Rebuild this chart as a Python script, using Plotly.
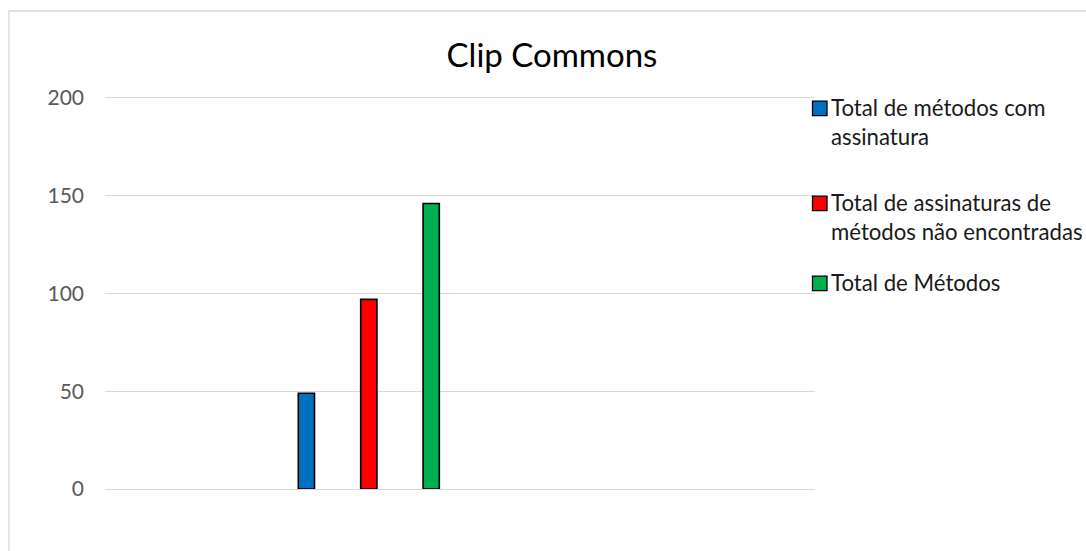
import plotly.graph_objects as go

# ---- data ----
category = ["Clip Commons"]
series_names = [
    "Total de métodos com<br>assinatura",
    "Total de assinaturas de<br>métodos não encontradas",
    "Total de Métodos",
]
series_values = [49, 97, 146]
series_colors = ["#0070C0", "#FF0000", "#00B050"]
y_ticks = [0, 50, 100, 150, 200]

W, H = 1086, 551
ML, MR, MT, MB = 105, 271, 96, 62
PW, PH = W - ML - MR, H - MT - MB

def px_x(p):
    return (p - ML) / PW

def px_y(p):
    return (H - MB - p) / PH

# legend layout (pixel centres of each entry's first line)
legend_centers = [108.3, 203.3, 283.3]
LEG_FONT = 22.2
SQ = 14.5

fig = go.Figure()
for name, val, col in zip(series_names, series_values, series_colors):
    fig.add_trace(go.Bar(
        x=category, y=[val], name=name, showlegend=False,
        marker=dict(color=col, line=dict(color="black", width=1.6)),
    ))

shapes = [dict(type="rect", xref="paper", yref="paper",
               x0=px_x(9), x1=px_x(1100), y0=px_y(560), y1=px_y(11),
               line=dict(color="#D9D9D9", width=1.3), fillcolor="rgba(0,0,0,0)",
               layer="below")]
annotations = []
for name, col, cy in zip(series_names, series_colors, legend_centers):
    shapes.append(dict(type="rect", xref="paper", yref="paper",
                       x0=px_x(812.5), x1=px_x(812.5 + SQ),
                       y0=px_y(cy + SQ / 2), y1=px_y(cy - SQ / 2),
                       line=dict(color="black", width=1.3), fillcolor=col))
    annotations.append(dict(text=name, xref="paper", yref="paper",
                            x=px_x(829), y=px_y(cy - 0.65 * LEG_FONT - 1.5),
                            xanchor="left", yanchor="top", align="left",
                            showarrow=False,
                            font=dict(family="Lato", size=LEG_FONT, color="#1a1a1a")))

fig.update_layout(
    width=W, height=H,
    margin=dict(l=ML, r=MR, t=MT, b=MB, autoexpand=False),
    paper_bgcolor="white", plot_bgcolor="white",
    showlegend=False,
    barmode="group", bargap=0.4, bargroupgap=0.74,
    title=dict(text="Clip Commons", x=552 / W, xanchor="center",
               y=1 - 55 / H, yanchor="middle", yref="container",
               font=dict(family="Lato", size=33, color="#000000")),
    xaxis=dict(type="category", range=[-0.8455, 1.4301], showticklabels=False,
               showgrid=False, zeroline=False, showline=False, ticks=""),
    yaxis=dict(range=[0, 201], tickvals=y_ticks, showgrid=True,
               gridcolor="#D9D9D9", gridwidth=1, zeroline=True,
               zerolinecolor="#D9D9D9", zerolinewidth=1, showline=False,
               ticks="", ticklabelstandoff=20,
               tickfont=dict(family="Lato", size=21, color="#595959")),
    shapes=shapes,
    annotations=annotations,
)

fig.write_html("out.html")
